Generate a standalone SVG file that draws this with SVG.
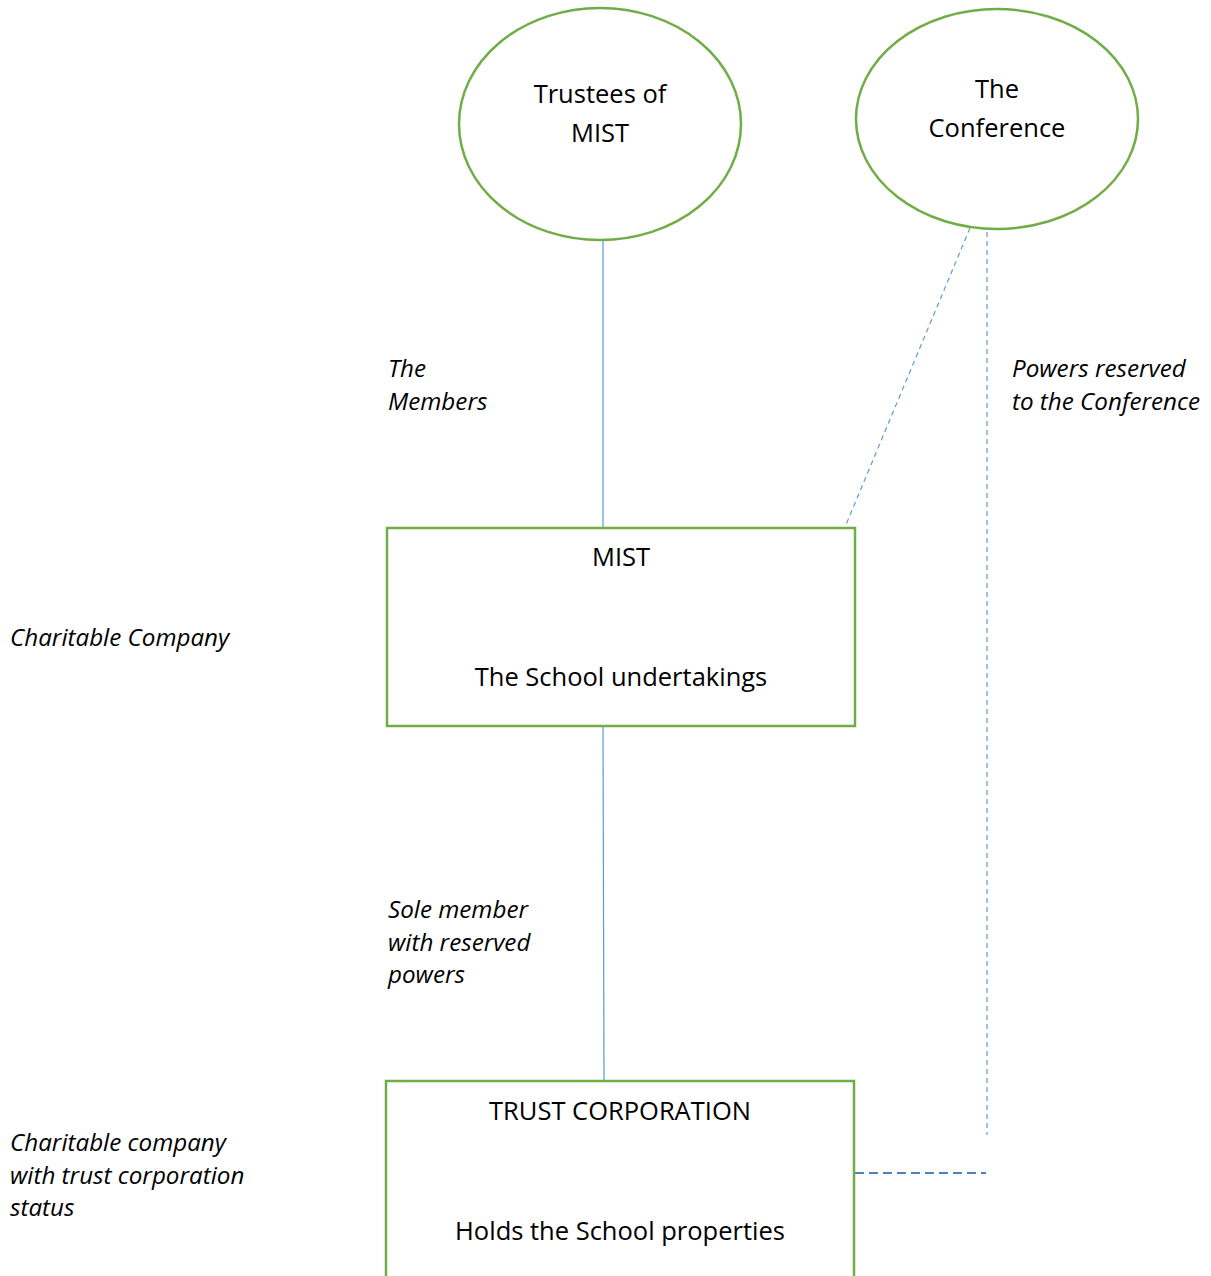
<svg xmlns="http://www.w3.org/2000/svg" width="1211" height="1276" viewBox="0 0 1211 1276">
<style>
.node{fill:#fff;stroke:#70AD47;stroke-width:2.5}
.t{font-family:"Open Sans","Liberation Sans",sans-serif;font-size:25.5px;fill:#000;text-anchor:middle}
.lbl{font-family:"Open Sans","Liberation Sans",sans-serif;font-size:24.2px;font-style:italic;fill:#000}
.solid{stroke:#5B9BD5;stroke-width:1.2;fill:none}
.dash{stroke:#5B9BD5;stroke-width:1.2;fill:none;stroke-dasharray:5 4}
.dash2{stroke:#4F81BD;stroke-width:2;fill:none;stroke-dasharray:9 5}
</style>
<rect width="1211" height="1276" fill="#fff"/>
<g id="connectors">
<line class="solid" x1="603" y1="240" x2="603" y2="528"/>
<line class="solid" x1="603" y1="726" x2="604" y2="1081"/>
<line class="dash" x1="970" y1="228" x2="845" y2="527"/>
<line class="dash" x1="987" y1="232" x2="987" y2="1135"/>
<line class="dash2" x1="855" y1="1173" x2="986" y2="1173"/>
</g>
<g id="trustees">
<ellipse class="node" cx="600" cy="124" rx="141" ry="116"/>
<text class="t" x="600" y="103">Trustees of</text>
<text class="t" x="600" y="142">MIST</text>
</g>
<g id="conference">
<ellipse class="node" cx="997" cy="119" rx="141" ry="110"/>
<text class="t" x="997" y="98">The</text>
<text class="t" x="997" y="137">Conference</text>
</g>
<g id="mist">
<rect class="node" x="387" y="528" width="468" height="198"/>
<text class="t" x="621" y="566">MIST</text>
<text class="t" x="621" y="686">The School undertakings</text>
</g>
<g id="trust">
<rect class="node" x="386" y="1081" width="468" height="220"/>
<text class="t" x="620" y="1120">TRUST CORPORATION</text>
<text class="t" x="620" y="1240">Holds the School properties</text>
</g>
<g id="labels">
<text class="lbl" x="388" y="377">The</text>
<text class="lbl" x="388" y="410">Members</text>
<text class="lbl" x="1012" y="377">Powers reserved</text>
<text class="lbl" x="1012" y="410">to the Conference</text>
<text class="lbl" x="10" y="646">Charitable Company</text>
<text class="lbl" x="388" y="918">Sole member</text>
<text class="lbl" x="388" y="951">with reserved</text>
<text class="lbl" x="388" y="983">powers</text>
<text class="lbl" x="10" y="1151">Charitable company</text>
<text class="lbl" x="10" y="1184">with trust corporation</text>
<text class="lbl" x="10" y="1216">status</text>
</g>
</svg>
